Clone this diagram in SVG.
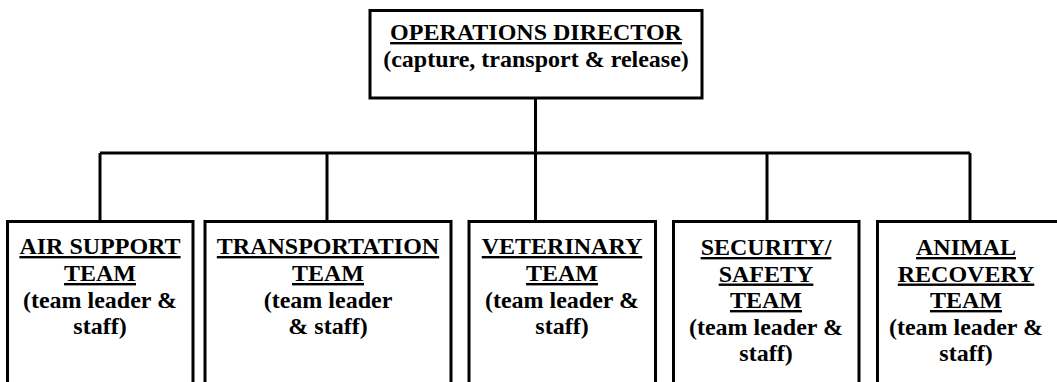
<svg xmlns="http://www.w3.org/2000/svg" width="1057" height="382" viewBox="0 0 1057 382">
<style>
.box{fill:none;stroke:#000;stroke-width:3;}
.conn{fill:none;stroke:#000;stroke-width:3;}
text{font-family:"Liberation Serif","Times New Roman",serif;font-weight:bold;font-size:24px;fill:#000;text-anchor:middle;}
.u{text-decoration:underline;}
</style>
<rect width="1057" height="382" fill="#fff"/>
<g id="connectors">
<path class="conn" d="M535.5,98 V153"/>
<path class="conn" d="M100,153 H970"/>
<path class="conn" d="M100,153 V221"/>
<path class="conn" d="M327,153 V221"/>
<path class="conn" d="M535.5,153 V221"/>
<path class="conn" d="M767,153 V221"/>
<path class="conn" d="M970,153 V221"/>
</g>
<g id="director">
<rect class="box" x="370" y="10.5" width="332" height="87.5"/>
<text x="536" y="40" class="u">OPERATIONS DIRECTOR</text>
<text x="536" y="67">(capture, transport &amp; release)</text>
</g>
<g id="air-support">
<path class="box" d="M7.5,400 V221.5 H193 V400"/>
<text x="100" y="254" class="u">AIR SUPPORT</text>
<text x="100" y="281" class="u">TEAM</text>
<text x="100" y="307.5">(team leader &amp;</text>
<text x="100" y="334">staff)</text>
</g>
<g id="transportation">
<path class="box" d="M205,400 V221.5 H451 V400"/>
<text x="328" y="254" class="u">TRANSPORTATION</text>
<text x="328" y="281" class="u">TEAM</text>
<text x="328" y="307.5">(team leader</text>
<text x="328" y="334">&amp; staff)</text>
</g>
<g id="veterinary">
<path class="box" d="M469,400 V221.5 H655.5 V400"/>
<text x="562" y="254" class="u">VETERINARY</text>
<text x="562" y="281" class="u">TEAM</text>
<text x="562" y="307.5">(team leader &amp;</text>
<text x="562" y="334">staff)</text>
</g>
<g id="security">
<path class="box" d="M673.5,400 V221.5 H859 V400"/>
<text x="766" y="255" class="u">SECURITY/</text>
<text x="766" y="281.5" class="u">SAFETY</text>
<text x="766" y="308" class="u">TEAM</text>
<text x="766" y="334.5">(team leader &amp;</text>
<text x="766" y="361">staff)</text>
</g>
<g id="animal-recovery">
<path class="box" d="M877.5,400 V221.5 H1060"/>
<text x="966" y="255" class="u">ANIMAL</text>
<text x="966" y="281.5" class="u">RECOVERY</text>
<text x="966" y="308" class="u">TEAM</text>
<text x="966" y="334.5">(team leader &amp;</text>
<text x="966" y="361">staff)</text>
</g>
</svg>
